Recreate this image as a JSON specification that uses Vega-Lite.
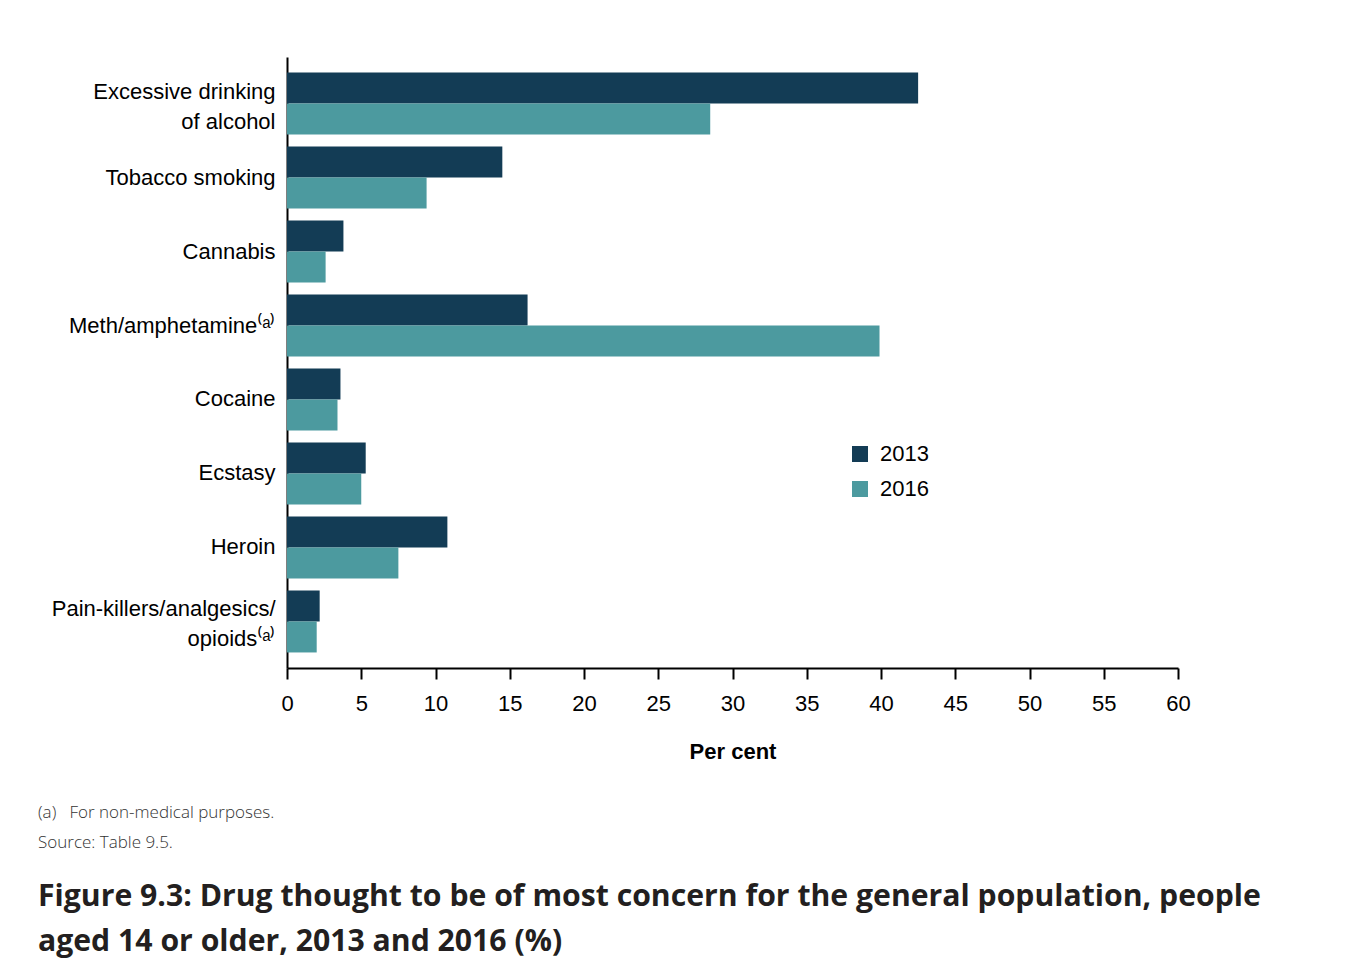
{
  "$schema": "https://vega.github.io/schema/vega-lite/v6.json",
  "width": 891,
  "height": 611,
  "autosize": {"type": "none"},
  "padding": {"left": 287, "top": 57, "right": 191, "bottom": 310},
  "background": "white",
  "data": {
    "values": [
      {"drug": "Excessive drinking|of alcohol", "year": "2013", "value": 42.5},
      {"drug": "Excessive drinking|of alcohol", "year": "2016", "value": 28.5},
      {"drug": "Tobacco smoking", "year": "2013", "value": 14.5},
      {"drug": "Tobacco smoking", "year": "2016", "value": 9.4},
      {"drug": "Cannabis", "year": "2013", "value": 3.8},
      {"drug": "Cannabis", "year": "2016", "value": 2.6},
      {"drug": "Meth/amphetamine⁽ᵃ⁾", "year": "2013", "value": 16.2},
      {"drug": "Meth/amphetamine⁽ᵃ⁾", "year": "2016", "value": 39.9},
      {"drug": "Cocaine", "year": "2013", "value": 3.6},
      {"drug": "Cocaine", "year": "2016", "value": 3.4},
      {"drug": "Ecstasy", "year": "2013", "value": 5.3},
      {"drug": "Ecstasy", "year": "2016", "value": 5.0},
      {"drug": "Heroin", "year": "2013", "value": 10.8},
      {"drug": "Heroin", "year": "2016", "value": 7.5},
      {"drug": "Pain-killers/analgesics/|opioids⁽ᵃ⁾", "year": "2013", "value": 2.2},
      {"drug": "Pain-killers/analgesics/|opioids⁽ᵃ⁾", "year": "2016", "value": 2.0}
    ]
  },
  "title": {
    "text": ["(a)\u00a0\u00a0 For non-medical purposes.", "Source: Table 9.5."],
    "subtitle": ["Figure 9.3: Drug thought to be of most concern for the general population, people", "aged 14 or older, 2013 and 2016 (%)"],
    "orient": "bottom",
    "anchor": "start",
    "frame": "group",
    "dx": -249,
    "offset": 43,
    "font": "Open Sans",
    "fontSize": 17,
    "fontWeight": 300,
    "color": "#333333",
    "lineHeight": 30,
    "subtitleFont": "Open Sans",
    "subtitleFontSize": 30.2,
    "subtitleFontWeight": 700,
    "subtitleColor": "#231f20",
    "subtitleLineHeight": 45,
    "subtitlePadding": 30
  },
  "mark": {"type": "bar"},
  "encoding": {
    "y": {
      "field": "drug",
      "type": "nominal",
      "sort": null,
      "scale": {"paddingInner": 0.162, "paddingOuter": 0.21},
      "axis": {
        "title": null,
        "labelExpr": "split(datum.label, '|')",
        "labelOffset": {"expr": "indexof(datum.value, '|') >= 0 ? -12 : 0"},
        "labelFont": "Liberation Sans",
        "labelFontSize": 22,
        "labelColor": "#000000",
        "labelLineHeight": 30,
        "labelPadding": 12,
        "ticks": false,
        "domainColor": "#000000",
        "domainWidth": 2,
        "labelLimit": 400
      }
    },
    "yOffset": {"field": "year", "type": "nominal", "scale": {"paddingInner": 0, "paddingOuter": 0}},
    "x": {
      "field": "value",
      "type": "quantitative",
      "scale": {"domain": [0, 60], "nice": false},
      "axis": {
        "title": "Per cent",
        "values": [0, 5, 10, 15, 20, 25, 30, 35, 40, 45, 50, 55, 60],
        "grid": false,
        "labelFlush": false,
        "tickSize": 11,
        "tickWidth": 2,
        "tickColor": "#000000",
        "domainColor": "#000000",
        "domainWidth": 2,
        "labelFont": "Liberation Sans",
        "labelFontSize": 22,
        "labelColor": "#000000",
        "labelPadding": 14,
        "titleFont": "Liberation Sans",
        "titleFontSize": 22,
        "titleFontWeight": "bold",
        "titleColor": "#000000",
        "titlePadding": 27
      }
    },
    "color": {
      "field": "year",
      "type": "nominal",
      "scale": {"domain": ["2013", "2016"], "range": ["#133c55", "#4c9a9f"]},
      "legend": {
        "title": null,
        "orient": "none",
        "legendX": 562,
        "legendY": 386,
        "symbolType": "square",
        "symbolSize": 256,
        "symbolStrokeWidth": 0,
        "labelFont": "Liberation Sans",
        "labelFontSize": 22,
        "labelColor": "#000000",
        "labelOffset": 9,
        "rowPadding": 13
      }
    }
  },
  "config": {
    "view": {"stroke": null}
  }
}
